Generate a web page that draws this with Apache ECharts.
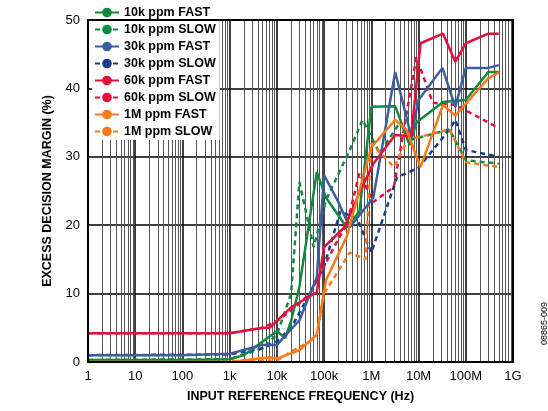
<!DOCTYPE html><html><head><meta charset="utf-8"><script src="https://cdn.jsdelivr.net/npm/echarts@6/dist/echarts.min.js"></script></head><body style="margin:0;background:#fff"><div id="c" style="width:548px;height:411px"></div><script>
const names=['10k ppm FAST','10k ppm SLOW','30k ppm FAST','30k ppm SLOW','60k ppm FAST','60k ppm SLOW','1M ppm FAST','1M ppm SLOW'];
const colors=['#0f8a3e','#0f8a3e','#3b5e9e','#1a3d8a','#e2103c','#e2103c','#ff7818','#ff7818'];
const g_fast=[[1,0.3],[100,0.3],[1000,0.4],[2000,1],[5000,3],[10000,4.5],[15000,3.5],[20000,6],[30000,11],[70000,27.8],[110000,24],[300000,19.7],[560000,22],[1e6,37.3],[3.2e6,37.4],[6.5e6,31.7],[9e6,35],[3.3e7,38],[1e8,38.3],[3e8,42.4],[5e8,42.4]];
const g_slow=[[1,0.3],[1000,0.4],[5000,2],[10000,4],[20000,10],[30000,26.3],[60000,16.8],[110000,23.7],[350000,31],[650000,35.4],[1.5e6,30.5],[4e6,35],[7e6,32.5],[4.5e7,34],[1e8,29.5],[5e8,29]];
const b_fast=[[1,1],[100,1],[1000,1.2],[5000,2.5],[10000,2.5],[30000,6.1],[70000,12.4],[100000,27.3],[190000,23.7],[350000,19.7],[1.1e6,24],[3.2e6,42.4],[7e6,33],[1e7,38.3],[3.2e7,43],[6e7,37.3],[1e8,43],[3e8,43],[5e8,43.4]];
const b_slow=[[1,1],[1000,1.1],[5000,2],[10000,3],[20000,5],[50000,10],[100000,14],[220000,22],[500000,21],[1e6,16],[3.5e6,27],[1e7,28.4],[4.5e7,34],[6e7,35.4],[1e8,31],[5e8,30]];
const r_fast=[[1,4.2],[1000,4.2],[5000,5],[7000,5],[10000,6],[20000,8],[70000,10.2],[100000,16.8],[270000,19.7],[560000,24.7],[1.1e6,29],[3.2e6,33.2],[7e6,33],[1.1e7,46.6],[3.3e7,48],[6e7,43.9],[1e8,46.6],[3e8,48],[5e8,48]];
const r_slow=[[1,4.2],[1000,4.2],[5000,5],[10000,6],[20000,7.5],[50000,10],[100000,14],[200000,18],[300000,20],[560000,27.6],[1.1e6,23.4],[3e6,25.6],[9e6,44.6],[2e7,37.9],[6e7,37.6],[5e8,34.2]];
const o_fast=[[1,0],[1000,0],[7000,0.7],[10000,0.5],[30000,1.7],[70000,4],[110000,12],[300000,18.3],[1e6,31.4],[3.2e6,35.4],[5.5e6,34],[1.1e7,28.5],[3.3e7,37.6],[6e7,36],[3e8,41.5],[5e8,42.3]];
const o_slow=[[1,0],[10000,0.2],[20000,1.5],[50000,3],[70000,4],[100000,10],[350000,16],[750000,15],[1e6,32],[3e6,28.5],[6e6,32.5],[4.5e7,34],[1e8,29.2],[5e8,28.5]];
const data=[g_fast,g_slow,b_fast,b_slow,r_fast,r_slow,o_fast,o_slow];
const xLabels={1:'1',10:'10',100:'100',1000:'1k',10000:'10k',100000:'100k',1000000:'1M',10000000:'10M',100000000:'100M',1000000000:'1G'};
const ch=echarts.init(document.getElementById('c'));
const bold={fontFamily:'Liberation Sans',fontWeight:'bold',fontSize:12.5,color:'#000'};
ch.setOption({animation:false,
grid:{left:88,right:35,top:20,bottom:49},
legend:{left:92,top:4,orient:'vertical',itemGap:4,itemWidth:24,itemHeight:12,backgroundColor:'#fff',padding:[2,4,2,2],
 textStyle:bold,data:names},
xAxis:{type:'log',logBase:10,min:1,max:1e9,name:'INPUT REFERENCE FREQUENCY (Hz)',nameLocation:'middle',nameGap:28,
 nameTextStyle:bold,
 axisLine:{lineStyle:{color:'#000',width:2}},axisTick:{show:false},
 axisLabel:{fontFamily:'Liberation Sans',fontSize:13,color:'#000',formatter:v=>xLabels[Math.round(v)]||''},
 splitLine:{show:true,lineStyle:{color:'#000',width:1.5}},minorTick:{show:false,splitNumber:9},minorSplitLine:{show:true,lineStyle:{color:'#555',width:1}}},
yAxis:{type:'value',min:0,max:50,interval:10,name:'EXCESS DECISION MARGIN (%)',nameLocation:'middle',nameGap:34,
 nameTextStyle:bold,
 axisLine:{show:true,lineStyle:{color:'#000',width:2}},axisTick:{show:false},
 axisLabel:{fontFamily:'Liberation Sans',fontSize:13,color:'#000'},splitLine:{lineStyle:{color:'#000',width:1.5}}},
graphic:[{type:'rect',shape:{x:88,y:20,width:425,height:342},style:{fill:'none',stroke:'#000',lineWidth:2},z:10},
 {type:'text',x:540,y:345,rotation:Math.PI/2,style:{text:'08865-009',fontSize:9,fontFamily:'Liberation Sans',fill:'#000'}}],
series:data.map((d,i)=>({type:'line',name:names[i],data:d,showSymbol:false,symbol:'none',color:colors[i],z:i%2?3:4,
 lineStyle:{width:2.5,color:colors[i],type:i%2?[5,4]:'solid'}}))
});
</script></body></html>
